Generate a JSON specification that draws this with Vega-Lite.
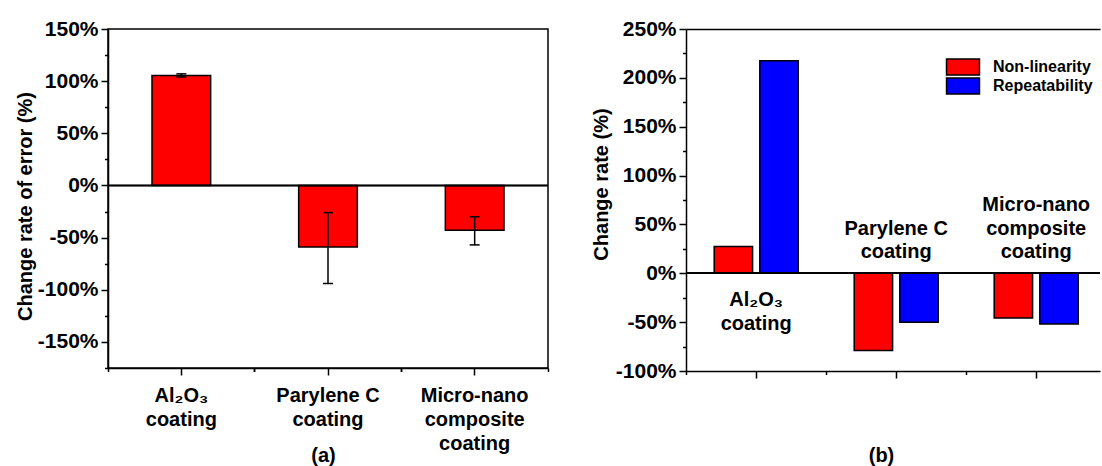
{
  "$schema": "https://vega.github.io/schema/vega-lite/v6.json",
  "background": "white",
  "padding": {"left": 14, "top": 17, "right": 0, "bottom": 0},
  "spacing": 41,
  "config": {
    "font": "Liberation Sans",
    "view": {"stroke": "black", "strokeWidth": 1.5},
    "axis": {
      "domainColor": "black", "domainWidth": 1.5, "tickColor": "black", "tickWidth": 1.5,
      "labelColor": "black", "titleColor": "black", "labelFontWeight": "bold", "titleFontWeight": "bold",
      "labelFontSize": 20, "titleFontSize": 20, "grid": false, "labelFont": "Liberation Sans", "titleFont": "Liberation Sans",
      "labelOverlap": false
    }
  },
  "hconcat": [
    {
      "width": 440,
      "height": 339,
      "data": {"values": [
        {"cat": "Al₂O₃\ncoating", "value": 105.5, "lower": 104, "upper": 107},
        {"cat": "Parylene C\ncoating", "value": -59, "lower": -94, "upper": -26},
        {"cat": "Micro-nano\ncomposite\ncoating", "value": -43, "lower": -57, "upper": -30}
      ]},
      "layer": [
        {
          "mark": {"type": "bar", "fill": "#ff0000", "stroke": "black", "strokeWidth": 1.5},
          "encoding": {
            "x": {"field": "cat", "type": "nominal", "sort": null,
              "scale": {"paddingInner": 0.6, "paddingOuter": 0.3, "round": false},
              "axis": {"orient": "bottom", "labelExpr": "split(datum.value, '\\n')", "labelAngle": 0, "labelLineHeight": 24,
                "labelPadding": 10, "tickSize": 7, "title": "(a)", "titleX": 215, "titleY": 77}},
            "y": {"field": "value", "type": "quantitative",
              "scale": {"domain": [-175, 150], "nice": false, "zero": false},
              "axis": {"values": [-175, -150, -125, -100, -75, -50, -25, 0, 25, 50, 75, 100, 125, 150], "tickCount": 100,
                "labelExpr": "datum.value % 50 === 0 ? datum.value + '%' : ''", "labelOverlap": false,
                "tickSize": {"condition": {"test": "datum.value % 50 === 0", "value": 7}, "value": 3.5},
                "labelPadding": 3, "labelFontSize": 21, "title": "Change rate of error (%)", "titlePadding": 2, "titleY": 177}}
          }
        },
        {
          "mark": {"type": "rule", "color": "black", "strokeWidth": 1.5},
          "encoding": {
            "x": {"field": "cat", "type": "nominal", "sort": null, "axis": null},
            "y": {"field": "lower", "type": "quantitative"},
            "y2": {"field": "upper"}
          }
        },
        {
          "mark": {"type": "tick", "color": "black", "thickness": 1.5, "size": 10, "opacity": 1},
          "encoding": {
            "x": {"field": "cat", "type": "nominal", "sort": null, "axis": null},
            "y": {"field": "lower", "type": "quantitative"}
          }
        },
        {
          "mark": {"type": "tick", "color": "black", "thickness": 1.5, "size": 10, "opacity": 1},
          "encoding": {
            "x": {"field": "cat", "type": "nominal", "sort": null, "axis": null},
            "y": {"field": "upper", "type": "quantitative"}
          }
        },
        {
          "mark": {"type": "rule", "color": "black", "strokeWidth": 1.5},
          "encoding": {"y": {"datum": 0}}
        },
        {
          "mark": {"type": "text", "text": ""},
          "encoding": {
            "x": {"field": "cat", "type": "nominal", "sort": null,
              "axis": {"orient": "bottom", "bandPosition": -0.75, "labels": false, "tickSize": 3.5, "domain": false, "title": null}},
            "y": {"datum": 0}
          }
        },
        {
          "mark": {"type": "text", "text": ""},
          "encoding": {
            "x": {"field": "cat", "type": "nominal", "sort": null,
              "axis": {"orient": "bottom", "bandPosition": 1.75, "labels": false, "tickSize": 3.5, "domain": false, "title": null}},
            "y": {"datum": 0}
          }
        }
      ],
      "resolve": {"axis": {"x": "independent"}}
    },
    {
      "width": 414,
      "height": 342,
      "view": {"stroke": null},
      "data": {"values": [
        {"cat": "Al₂O₃\ncoating", "series": "Non-linearity", "value": 27.4},
        {"cat": "Al₂O₃\ncoating", "series": "Repeatability", "value": 217.5},
        {"cat": "Parylene C\ncoating", "series": "Non-linearity", "value": -79},
        {"cat": "Parylene C\ncoating", "series": "Repeatability", "value": -50},
        {"cat": "Micro-nano\ncomposite\ncoating", "series": "Non-linearity", "value": -45.7},
        {"cat": "Micro-nano\ncomposite\ncoating", "series": "Repeatability", "value": -52}
      ]},
      "layer": [
        {
          "mark": {"type": "bar", "stroke": "black", "strokeWidth": 1.5},
          "encoding": {
            "x": {"field": "cat", "type": "nominal", "sort": null,
              "scale": {"paddingInner": 0.4, "paddingOuter": 0.17857, "align": 0.564, "round": false},
              "axis": {"orient": "bottom", "labels": false, "tickSize": 7, "title": "(b)", "titleX": 195, "titleY": 74}},
            "xOffset": {"field": "series", "type": "nominal", "scale": {"paddingInner": 0.158, "paddingOuter": 0}},
            "y": {"field": "value", "type": "quantitative",
              "scale": {"domain": [-100, 250], "nice": false, "zero": false},
              "axis": {"values": [-100, -75, -50, -25, 0, 25, 50, 75, 100, 125, 150, 175, 200, 225, 250], "tickCount": 100,
                "labelExpr": "datum.value % 50 === 0 ? datum.value + '%' : ''", "labelOverlap": false,
                "tickSize": {"condition": {"test": "datum.value % 50 === 0", "value": 7}, "value": 3.5},
                "labelPadding": 3, "labelFontSize": 21, "title": "Change rate (%)", "titlePadding": 4, "titleY": 155}},
            "color": {"field": "series", "type": "nominal",
              "scale": {"domain": ["Non-linearity", "Repeatability"], "range": ["#ff0000", "#0000ff"]},
              "legend": {"orient": "none", "legendX": 847, "legendY": 30, "title": null, "padding": 0,
                "symbolType": "M-2.69,-1.3H2.69V1.3H-2.69Z", "symbolSize": 150,
                "symbolStrokeColor": "black", "symbolStrokeWidth": 1.5, "symbolOpacity": 1,
                "labelFontSize": 16, "labelFontWeight": "bold", "labelColor": "black", "labelOffset": 22, "rowPadding": -9}}
          }
        },
        {
          "mark": {"type": "rule", "color": "black", "strokeWidth": 1.5},
          "encoding": {"y": {"datum": 0}}
        },
        {
          "transform": [{"filter": "datum.series === 'Non-linearity' && indexof(datum.cat, 'Al') === 0"}],
          "mark": {"type": "text", "baseline": "top", "dy": 17, "lineBreak": "\n", "lineHeight": 23.5, "fontSize": 20, "fontWeight": "bold", "color": "black"},
          "encoding": {
            "x": {"field": "cat", "type": "nominal", "sort": null,
              "axis": {"orient": "bottom", "bandPosition": -0.333, "labels": false, "tickSize": 3.5, "domain": false, "title": null}},
            "y": {"datum": 0},
            "text": {"field": "cat"}
          }
        },
        {
          "transform": [
            {"filter": "datum.series === 'Non-linearity' && indexof(datum.cat, 'Al') !== 0"},
            {"calculate": "join(reverse(split(datum.cat, '\\n')), '\\n')", "as": "label"}
          ],
          "mark": {"type": "text", "baseline": "bottom", "dy": -11, "lineBreak": "\n", "lineHeight": -23.5, "fontSize": 20, "fontWeight": "bold", "color": "black"},
          "encoding": {
            "x": {"field": "cat", "type": "nominal", "sort": null,
              "axis": {"orient": "top", "labels": false, "ticks": false, "domain": true, "title": null}},
            "y": {"datum": 0},
            "text": {"field": "label"}
          }
        }
      ],
      "resolve": {"axis": {"x": "independent"}}
    }
  ]
}
